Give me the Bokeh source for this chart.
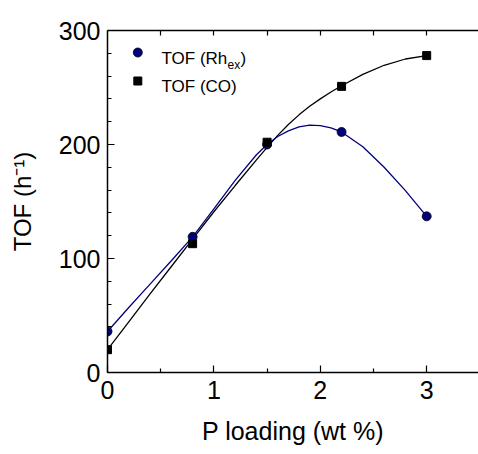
from bokeh.plotting import figure
from bokeh.models import Range1d, LinearAxis, Label, FixedTicker
from bokeh.embed import file_html
from bokeh.resources import INLINE

# ---- data ----
p_loading = [0.0, 0.8, 1.5, 2.2, 3.0]
tof_rh = [36, 119, 200, 211, 137]
tof_co = [20, 113, 202, 251, 278]

# smooth guide curves
curve_x = [0, 0.2, 0.4, 0.6, 0.8, 1.0, 1.2, 1.4, 1.5, 1.6, 1.7, 1.8, 1.9, 2.0, 2.1, 2.2, 2.4, 2.6, 2.8, 3.0]
rh_curve = [36, 57, 77.5, 98, 119, 143.5, 168.5, 191, 200, 207, 212, 215.5, 217, 216.5, 214.5, 211, 198, 180, 159.5, 137]
co_curve = [20, 44.5, 69, 93, 117, 141, 164, 186.5, 197.5, 208, 217.5, 226, 233.5, 240, 246, 251.5, 261.5, 269.5, 275, 278]

x_ticks = [0, 1, 2, 3]
x_minor = [0.5, 1.5, 2.5, 3.5]
y_ticks = [0, 100, 200, 300]
y_minor = [20, 40, 60, 80, 120, 140, 160, 180, 220, 240, 260, 280]

x_title = "P loading (wt %)"
y_title = "TOF (h\u207b\u00b9)"

FONT = "Liberation Sans"
BLUE = "#000080"

p = figure(width=478, height=454, output_backend="svg", toolbar_location=None,
           x_range=Range1d(0, 3.487), y_range=Range1d(0, 300),
           min_border_left=107, min_border_right=0, min_border_top=30, min_border_bottom=82,
           x_axis_location=None, y_axis_location=None)
p.outline_line_color = None
p.grid.visible = False
p.background_fill_color = "white"
p.border_fill_color = "white"

def style_axis(ax, ticks, minor):
    ax.ticker = FixedTicker(ticks=ticks, minor_ticks=minor)
    ax.axis_line_width = 1.5
    ax.axis_line_color = "black"
    ax.major_tick_in = 7
    ax.major_tick_out = 0
    ax.minor_tick_in = 4
    ax.minor_tick_out = 0
    ax.major_tick_line_width = 1.2
    ax.minor_tick_line_width = 1.2
    ax.major_label_text_font = FONT
    ax.major_label_text_color = "black"
    ax.major_label_text_font_size = "25px"
    ax.axis_label_text_font = FONT
    ax.axis_label_text_font_style = "normal"
    ax.axis_label_text_color = "black"

xb = LinearAxis()
style_axis(xb, x_ticks, x_minor)
xb.major_label_standoff = 8
xb.axis_label = x_title
xb.axis_label_text_font_size = "25px"
xb.axis_label_standoff = 15
p.add_layout(xb, "below")

# top axis: ticks only, no labels
xt = LinearAxis()
style_axis(xt, [], [0.5, 1, 1.5, 2, 2.5, 3, 3.5])
xt.minor_tick_in = 5
p.add_layout(xt, "above")

yl = LinearAxis()
style_axis(yl, y_ticks, y_minor)
yl.major_label_standoff = 7
yl.axis_label = y_title
yl.axis_label_text_font_size = "24px"
yl.axis_label_standoff = 20
p.add_layout(yl, "left")

# curves
p.line(curve_x, co_curve, line_color="black", line_width=1.3)
p.line(curve_x, rh_curve, line_color=BLUE, line_width=1.3)

# points
p.scatter(p_loading, tof_rh, marker="circle", size=9, fill_color=BLUE, line_color="black", line_width=0.8)
p.scatter(p_loading, tof_co, marker="square", size=8, fill_color="black", line_color="black")

# legend markers (drawn by hand because of the subscript)
p.scatter([0.285], [280.7], marker="circle", size=9, fill_color=BLUE, line_color="black", line_width=0.8)
p.scatter([0.285], [255.7], marker="square", size=8, fill_color="black", line_color="black")

# screen units are relative to the frame: frame left = 107 px, frame bottom = 372 px
FL, FB = 107, 372

def lab(text, px, py, size, align="left"):
    p.add_layout(Label(x=px - FL, y=FB - py, x_units="screen", y_units="screen", text=text,
                       text_font=FONT, text_font_size=size, text_color="black",
                       text_align=align, text_baseline="alphabetic"))

# legend texts
lab("TOF (Rh", 161, 57.5, "17px")
lab("ex", 227, 64, "12px")
lab(")", 240, 57.5, "17px")
lab("TOF (CO)", 161, 86, "17px")

open("out.html", "w").write(file_html(p, INLINE))
